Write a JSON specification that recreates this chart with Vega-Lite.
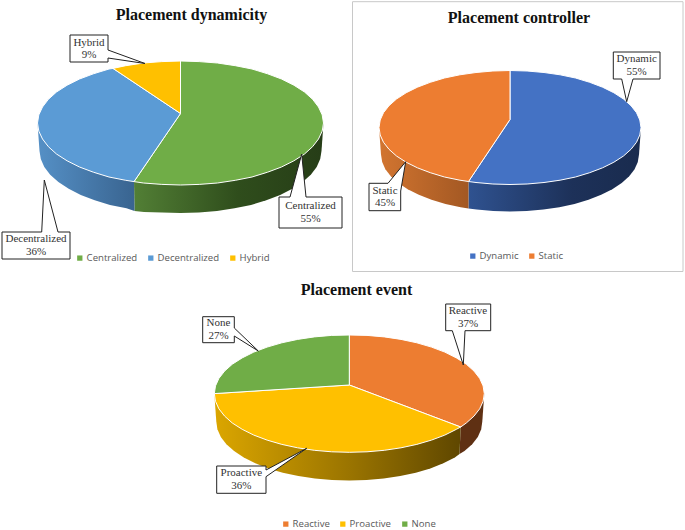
{
"$schema":"https://vega.github.io/schema/vega-lite/v6.json",
"padding":0,
"background":"white",
"spacing":0,
"config":{"view":{"stroke":null},"concat":{"spacing":0},
"title":{"font":"Liberation Serif","fontWeight":"bold","fontSize":16,"color":"#111111","frame":"group"}},
"datasets":{
"A":[
{"part":"top","slice":"Centralized","i":0,"x":180.5,"y":61},{"part":"top","slice":"Centralized","i":1,"x":199.2,"y":61.6},{"part":"top","slice":"Centralized","i":2,"x":217.5,"y":63},{"part":"top","slice":"Centralized","i":3,"x":235.3,"y":65.7},{"part":"top","slice":"Centralized","i":4,"x":252,"y":69},{"part":"top","slice":"Centralized","i":5,"x":267.6,"y":73.8},{"part":"top","slice":"Centralized","i":6,"x":281.5,"y":79},{"part":"top","slice":"Centralized","i":7,"x":293.9,"y":85.2},{"part":"top","slice":"Centralized","i":8,"x":304.5,"y":92},{"part":"top","slice":"Centralized","i":9,"x":312.6,"y":99.3},{"part":"top","slice":"Centralized","i":10,"x":318.5,"y":107},{"part":"top","slice":"Centralized","i":11,"x":322.2,"y":114.9},{"part":"top","slice":"Centralized","i":12,"x":323.5,"y":123},{"part":"top","slice":"Centralized","i":13,"x":322.2,"y":131.1},{"part":"top","slice":"Centralized","i":14,"x":318.5,"y":139},{"part":"top","slice":"Centralized","i":15,"x":312.6,"y":146.7},{"part":"top","slice":"Centralized","i":16,"x":304.5,"y":154},{"part":"top","slice":"Centralized","i":17,"x":293.9,"y":160.8},{"part":"top","slice":"Centralized","i":18,"x":281.5,"y":167},{"part":"top","slice":"Centralized","i":19,"x":267.6,"y":172.2},{"part":"top","slice":"Centralized","i":20,"x":252,"y":177},{"part":"top","slice":"Centralized","i":21,"x":235.3,"y":180.3},{"part":"top","slice":"Centralized","i":22,"x":217.5,"y":183},{"part":"top","slice":"Centralized","i":23,"x":199.2,"y":184.4},{"part":"top","slice":"Centralized","i":24,"x":180.5,"y":185},{"part":"top","slice":"Centralized","i":25,"x":161.8,"y":184.4},{"part":"top","slice":"Centralized","i":26,"x":143.5,"y":183},{"part":"top","slice":"Centralized","i":27,"x":134,"y":181.6},{"part":"top","slice":"Centralized","i":28,"x":180.5,"y":113.5},{"part":"top","slice":"Centralized","i":29,"x":180.5,"y":61},
{"part":"top","slice":"Decentralized","i":0,"x":134,"y":181.6},{"part":"top","slice":"Decentralized","i":1,"x":125.7,"y":180.3},{"part":"top","slice":"Decentralized","i":2,"x":109,"y":177},{"part":"top","slice":"Decentralized","i":3,"x":93.4,"y":172.2},{"part":"top","slice":"Decentralized","i":4,"x":79.5,"y":167},{"part":"top","slice":"Decentralized","i":5,"x":67.1,"y":160.8},{"part":"top","slice":"Decentralized","i":6,"x":56.5,"y":154},{"part":"top","slice":"Decentralized","i":7,"x":48.4,"y":146.7},{"part":"top","slice":"Decentralized","i":8,"x":42.5,"y":139},{"part":"top","slice":"Decentralized","i":9,"x":38.8,"y":131.1},{"part":"top","slice":"Decentralized","i":10,"x":37.5,"y":123},{"part":"top","slice":"Decentralized","i":11,"x":38.8,"y":114.9},{"part":"top","slice":"Decentralized","i":12,"x":42.5,"y":107},{"part":"top","slice":"Decentralized","i":13,"x":48.4,"y":99.3},{"part":"top","slice":"Decentralized","i":14,"x":56.5,"y":92},{"part":"top","slice":"Decentralized","i":15,"x":67.1,"y":85.2},{"part":"top","slice":"Decentralized","i":16,"x":79.5,"y":79},{"part":"top","slice":"Decentralized","i":17,"x":93.4,"y":73.8},{"part":"top","slice":"Decentralized","i":18,"x":109,"y":69},{"part":"top","slice":"Decentralized","i":19,"x":113,"y":68.4},{"part":"top","slice":"Decentralized","i":20,"x":180.5,"y":113.5},{"part":"top","slice":"Decentralized","i":21,"x":134,"y":181.6},
{"part":"top","slice":"Hybrid","i":0,"x":113,"y":68.4},{"part":"top","slice":"Hybrid","i":1,"x":125.7,"y":65.7},{"part":"top","slice":"Hybrid","i":2,"x":143.5,"y":63},{"part":"top","slice":"Hybrid","i":3,"x":161.8,"y":61.6},{"part":"top","slice":"Hybrid","i":4,"x":180.5,"y":61},{"part":"top","slice":"Hybrid","i":5,"x":180.5,"y":113.5},{"part":"top","slice":"Hybrid","i":6,"x":113,"y":68.4},
{"part":"wall","slice":"Centralized","i":0,"x":323.5,"y":123},{"part":"wall","slice":"Centralized","i":1,"x":321.5,"y":151},{"part":"wall","slice":"Centralized","i":2,"x":320.2,"y":159.1},{"part":"wall","slice":"Centralized","i":3,"x":316.7,"y":167},{"part":"wall","slice":"Centralized","i":4,"x":310.8,"y":174.7},{"part":"wall","slice":"Centralized","i":5,"x":302.6,"y":182},{"part":"wall","slice":"Centralized","i":6,"x":292.3,"y":188.8},{"part":"wall","slice":"Centralized","i":7,"x":280.2,"y":195},{"part":"wall","slice":"Centralized","i":8,"x":266.3,"y":200.2},{"part":"wall","slice":"Centralized","i":9,"x":251,"y":205},{"part":"wall","slice":"Centralized","i":10,"x":234.5,"y":208.3},{"part":"wall","slice":"Centralized","i":11,"x":217,"y":211},{"part":"wall","slice":"Centralized","i":12,"x":198.9,"y":212.4},{"part":"wall","slice":"Centralized","i":13,"x":180.5,"y":213},{"part":"wall","slice":"Centralized","i":14,"x":162.1,"y":212.6},{"part":"wall","slice":"Centralized","i":15,"x":144,"y":212},{"part":"wall","slice":"Centralized","i":16,"x":134.5,"y":211},{"part":"wall","slice":"Centralized","i":17,"x":134,"y":181.6},
{"part":"wall","slice":"Decentralized","i":0,"x":134,"y":181.6},{"part":"wall","slice":"Decentralized","i":1,"x":134.5,"y":211},{"part":"wall","slice":"Decentralized","i":2,"x":126.5,"y":208.3},{"part":"wall","slice":"Decentralized","i":3,"x":110,"y":205},{"part":"wall","slice":"Decentralized","i":4,"x":94.7,"y":200.2},{"part":"wall","slice":"Decentralized","i":5,"x":80.8,"y":195},{"part":"wall","slice":"Decentralized","i":6,"x":68.7,"y":188.8},{"part":"wall","slice":"Decentralized","i":7,"x":58.4,"y":182},{"part":"wall","slice":"Decentralized","i":8,"x":50.2,"y":174.7},{"part":"wall","slice":"Decentralized","i":9,"x":44.3,"y":167},{"part":"wall","slice":"Decentralized","i":10,"x":40.8,"y":159.1},{"part":"wall","slice":"Decentralized","i":11,"x":39.5,"y":151},{"part":"wall","slice":"Decentralized","i":12,"x":37.5,"y":123}
],
"Acall":[
{"c":"Hybrid","i":0,"x":70,"y":35},{"c":"Hybrid","i":1,"x":108,"y":35},{"c":"Hybrid","i":2,"x":108,"y":50},{"c":"Hybrid","i":3,"x":145,"y":63.5},{"c":"Hybrid","i":4,"x":108,"y":58},{"c":"Hybrid","i":5,"x":108,"y":62},{"c":"Hybrid","i":6,"x":70,"y":62},{"c":"Hybrid","i":7,"x":70,"y":35},
{"c":"Centralized","i":0,"x":279,"y":197},{"c":"Centralized","i":1,"x":290,"y":197},{"c":"Centralized","i":2,"x":301.7,"y":154},{"c":"Centralized","i":3,"x":306,"y":197},{"c":"Centralized","i":4,"x":342,"y":197},{"c":"Centralized","i":5,"x":342,"y":228},{"c":"Centralized","i":6,"x":279,"y":228},{"c":"Centralized","i":7,"x":279,"y":197},
{"c":"Decentralized","i":0,"x":2,"y":232},{"c":"Decentralized","i":1,"x":41.7,"y":232},{"c":"Decentralized","i":2,"x":44.3,"y":180},{"c":"Decentralized","i":3,"x":58,"y":232},{"c":"Decentralized","i":4,"x":70,"y":232},{"c":"Decentralized","i":5,"x":70,"y":259},{"c":"Decentralized","i":6,"x":2,"y":259},{"c":"Decentralized","i":7,"x":2,"y":232}
],
"Alabel":[{"label":"Hybrid\n9%","x":89,"y":42.8},{"label":"Centralized\n55%","x":310.5,"y":206.3},{"label":"Decentralized\n36%","x":36,"y":239.3}],
"B":[
{"part":"top","slice":"Dynamic","i":0,"x":510,"y":70.5},{"part":"top","slice":"Dynamic","i":1,"x":527.1,"y":71},{"part":"top","slice":"Dynamic","i":2,"x":544,"y":72.5},{"part":"top","slice":"Dynamic","i":3,"x":560.1,"y":74.8},{"part":"top","slice":"Dynamic","i":4,"x":575.5,"y":78},{"part":"top","slice":"Dynamic","i":5,"x":589.7,"y":82.3},{"part":"top","slice":"Dynamic","i":6,"x":602.6,"y":87.2},{"part":"top","slice":"Dynamic","i":7,"x":613.9,"y":92.8},{"part":"top","slice":"Dynamic","i":8,"x":623.5,"y":99},{"part":"top","slice":"Dynamic","i":9,"x":631,"y":105.7},{"part":"top","slice":"Dynamic","i":10,"x":636.5,"y":112.7},{"part":"top","slice":"Dynamic","i":11,"x":639.8,"y":120},{"part":"top","slice":"Dynamic","i":12,"x":641,"y":127.5},{"part":"top","slice":"Dynamic","i":13,"x":639.8,"y":135},{"part":"top","slice":"Dynamic","i":14,"x":636.5,"y":142.3},{"part":"top","slice":"Dynamic","i":15,"x":631,"y":149.3},{"part":"top","slice":"Dynamic","i":16,"x":623.5,"y":156},{"part":"top","slice":"Dynamic","i":17,"x":613.9,"y":162.2},{"part":"top","slice":"Dynamic","i":18,"x":602.6,"y":167.8},{"part":"top","slice":"Dynamic","i":19,"x":589.7,"y":172.7},{"part":"top","slice":"Dynamic","i":20,"x":575.5,"y":177},{"part":"top","slice":"Dynamic","i":21,"x":560.1,"y":180.2},{"part":"top","slice":"Dynamic","i":22,"x":544,"y":182.5},{"part":"top","slice":"Dynamic","i":23,"x":527.1,"y":184},{"part":"top","slice":"Dynamic","i":24,"x":510,"y":184.5},{"part":"top","slice":"Dynamic","i":25,"x":492.9,"y":184},{"part":"top","slice":"Dynamic","i":26,"x":476,"y":182.5},{"part":"top","slice":"Dynamic","i":27,"x":468.5,"y":181.5},{"part":"top","slice":"Dynamic","i":28,"x":510,"y":119.5},{"part":"top","slice":"Dynamic","i":29,"x":510,"y":70.5},
{"part":"top","slice":"Static","i":0,"x":468.5,"y":181.5},{"part":"top","slice":"Static","i":1,"x":459.9,"y":180.2},{"part":"top","slice":"Static","i":2,"x":444.5,"y":177},{"part":"top","slice":"Static","i":3,"x":430.3,"y":172.7},{"part":"top","slice":"Static","i":4,"x":417.4,"y":167.8},{"part":"top","slice":"Static","i":5,"x":406.1,"y":162.2},{"part":"top","slice":"Static","i":6,"x":396.5,"y":156},{"part":"top","slice":"Static","i":7,"x":389,"y":149.3},{"part":"top","slice":"Static","i":8,"x":383.5,"y":142.3},{"part":"top","slice":"Static","i":9,"x":380.2,"y":135},{"part":"top","slice":"Static","i":10,"x":379,"y":127.5},{"part":"top","slice":"Static","i":11,"x":380.2,"y":120},{"part":"top","slice":"Static","i":12,"x":383.5,"y":112.7},{"part":"top","slice":"Static","i":13,"x":389,"y":105.7},{"part":"top","slice":"Static","i":14,"x":396.5,"y":99},{"part":"top","slice":"Static","i":15,"x":406.1,"y":92.8},{"part":"top","slice":"Static","i":16,"x":417.4,"y":87.2},{"part":"top","slice":"Static","i":17,"x":430.3,"y":82.3},{"part":"top","slice":"Static","i":18,"x":444.5,"y":78},{"part":"top","slice":"Static","i":19,"x":459.9,"y":74.8},{"part":"top","slice":"Static","i":20,"x":476,"y":72.5},{"part":"top","slice":"Static","i":21,"x":492.9,"y":71},{"part":"top","slice":"Static","i":22,"x":510,"y":70.5},{"part":"top","slice":"Static","i":23,"x":510,"y":119.5},{"part":"top","slice":"Static","i":24,"x":468.5,"y":181.5},
{"part":"wall","slice":"Dynamic","i":0,"x":641,"y":127.5},{"part":"wall","slice":"Dynamic","i":1,"x":639,"y":154.5},{"part":"wall","slice":"Dynamic","i":2,"x":637.8,"y":162},{"part":"wall","slice":"Dynamic","i":3,"x":634.6,"y":169.3},{"part":"wall","slice":"Dynamic","i":4,"x":629.2,"y":176.3},{"part":"wall","slice":"Dynamic","i":5,"x":621.7,"y":183},{"part":"wall","slice":"Dynamic","i":6,"x":612.3,"y":189.2},{"part":"wall","slice":"Dynamic","i":7,"x":601.2,"y":194.8},{"part":"wall","slice":"Dynamic","i":8,"x":588.5,"y":199.7},{"part":"wall","slice":"Dynamic","i":9,"x":574.5,"y":204},{"part":"wall","slice":"Dynamic","i":10,"x":559.4,"y":207.2},{"part":"wall","slice":"Dynamic","i":11,"x":543.4,"y":209.5},{"part":"wall","slice":"Dynamic","i":12,"x":526.8,"y":211},{"part":"wall","slice":"Dynamic","i":13,"x":510,"y":211.5},{"part":"wall","slice":"Dynamic","i":14,"x":493.2,"y":211},{"part":"wall","slice":"Dynamic","i":15,"x":476.6,"y":209.5},{"part":"wall","slice":"Dynamic","i":16,"x":468.5,"y":208.5},{"part":"wall","slice":"Dynamic","i":17,"x":468.5,"y":181.5},
{"part":"wall","slice":"Static","i":0,"x":468.5,"y":181.5},{"part":"wall","slice":"Static","i":1,"x":468.5,"y":208.5},{"part":"wall","slice":"Static","i":2,"x":460.6,"y":207.2},{"part":"wall","slice":"Static","i":3,"x":445.5,"y":204},{"part":"wall","slice":"Static","i":4,"x":431.5,"y":199.7},{"part":"wall","slice":"Static","i":5,"x":418.8,"y":194.8},{"part":"wall","slice":"Static","i":6,"x":407.7,"y":189.2},{"part":"wall","slice":"Static","i":7,"x":398.3,"y":183},{"part":"wall","slice":"Static","i":8,"x":390.8,"y":176.3},{"part":"wall","slice":"Static","i":9,"x":385.4,"y":169.3},{"part":"wall","slice":"Static","i":10,"x":382.2,"y":162},{"part":"wall","slice":"Static","i":11,"x":381,"y":154.5},{"part":"wall","slice":"Static","i":12,"x":379,"y":127.5}
],
"Bcall":[
{"c":"Dynamic","i":0,"x":613.3,"y":52},{"c":"Dynamic","i":1,"x":660,"y":52},{"c":"Dynamic","i":2,"x":660,"y":79},{"c":"Dynamic","i":3,"x":633,"y":79},{"c":"Dynamic","i":4,"x":626.7,"y":101.7},{"c":"Dynamic","i":5,"x":621.7,"y":79},{"c":"Dynamic","i":6,"x":613.3,"y":79},{"c":"Dynamic","i":7,"x":613.3,"y":52},
{"c":"Static","i":0,"x":369,"y":183.3},{"c":"Static","i":1,"x":388,"y":183.3},{"c":"Static","i":2,"x":405.7,"y":161.7},{"c":"Static","i":3,"x":400.7,"y":191},{"c":"Static","i":4,"x":400.7,"y":210.7},{"c":"Static","i":5,"x":369,"y":210.7},{"c":"Static","i":6,"x":369,"y":183.3}
],
"Blabel":[{"label":"Dynamic\n55%","x":636.7,"y":59.3},{"label":"Static\n45%","x":385,"y":190.8}],
"C":[
{"part":"top","slice":"Reactive","i":0,"x":349.3,"y":335},{"part":"top","slice":"Reactive","i":1,"x":367,"y":335.4},{"part":"top","slice":"Reactive","i":2,"x":384.3,"y":336.9},{"part":"top","slice":"Reactive","i":3,"x":401,"y":339.4},{"part":"top","slice":"Reactive","i":4,"x":416.8,"y":342.8},{"part":"top","slice":"Reactive","i":5,"x":431.5,"y":347.1},{"part":"top","slice":"Reactive","i":6,"x":444.8,"y":352.1},{"part":"top","slice":"Reactive","i":7,"x":456.4,"y":357.9},{"part":"top","slice":"Reactive","i":8,"x":466.3,"y":364.2},{"part":"top","slice":"Reactive","i":9,"x":474,"y":371.1},{"part":"top","slice":"Reactive","i":10,"x":479.7,"y":378.4},{"part":"top","slice":"Reactive","i":11,"x":483.1,"y":385.9},{"part":"top","slice":"Reactive","i":12,"x":484.3,"y":393.6},{"part":"top","slice":"Reactive","i":13,"x":483.1,"y":401.3},{"part":"top","slice":"Reactive","i":14,"x":479.7,"y":408.8},{"part":"top","slice":"Reactive","i":15,"x":474,"y":416.1},{"part":"top","slice":"Reactive","i":16,"x":466.3,"y":423},{"part":"top","slice":"Reactive","i":17,"x":460.7,"y":427},{"part":"top","slice":"Reactive","i":18,"x":349.3,"y":385},{"part":"top","slice":"Reactive","i":19,"x":349.3,"y":335},
{"part":"top","slice":"Proactive","i":0,"x":460.7,"y":427},{"part":"top","slice":"Proactive","i":1,"x":456.4,"y":429.3},{"part":"top","slice":"Proactive","i":2,"x":444.8,"y":435.1},{"part":"top","slice":"Proactive","i":3,"x":431.5,"y":440.1},{"part":"top","slice":"Proactive","i":4,"x":416.8,"y":444.4},{"part":"top","slice":"Proactive","i":5,"x":401,"y":447.8},{"part":"top","slice":"Proactive","i":6,"x":384.3,"y":450.3},{"part":"top","slice":"Proactive","i":7,"x":367,"y":451.8},{"part":"top","slice":"Proactive","i":8,"x":349.3,"y":452.3},{"part":"top","slice":"Proactive","i":9,"x":331.6,"y":451.8},{"part":"top","slice":"Proactive","i":10,"x":314.3,"y":450.3},{"part":"top","slice":"Proactive","i":11,"x":297.6,"y":447.8},{"part":"top","slice":"Proactive","i":12,"x":281.8,"y":444.4},{"part":"top","slice":"Proactive","i":13,"x":267.1,"y":440.1},{"part":"top","slice":"Proactive","i":14,"x":253.8,"y":435.1},{"part":"top","slice":"Proactive","i":15,"x":242.2,"y":429.3},{"part":"top","slice":"Proactive","i":16,"x":232.3,"y":423},{"part":"top","slice":"Proactive","i":17,"x":224.6,"y":416.1},{"part":"top","slice":"Proactive","i":18,"x":218.9,"y":408.8},{"part":"top","slice":"Proactive","i":19,"x":215.5,"y":401.3},{"part":"top","slice":"Proactive","i":20,"x":214.3,"y":393.6},{"part":"top","slice":"Proactive","i":21,"x":349.3,"y":385},{"part":"top","slice":"Proactive","i":22,"x":460.7,"y":427},
{"part":"top","slice":"None","i":0,"x":214.3,"y":393.6},{"part":"top","slice":"None","i":1,"x":215.5,"y":385.9},{"part":"top","slice":"None","i":2,"x":218.9,"y":378.4},{"part":"top","slice":"None","i":3,"x":224.6,"y":371.1},{"part":"top","slice":"None","i":4,"x":232.3,"y":364.2},{"part":"top","slice":"None","i":5,"x":242.2,"y":357.9},{"part":"top","slice":"None","i":6,"x":253.8,"y":352.1},{"part":"top","slice":"None","i":7,"x":267.1,"y":347.1},{"part":"top","slice":"None","i":8,"x":281.8,"y":342.8},{"part":"top","slice":"None","i":9,"x":297.6,"y":339.4},{"part":"top","slice":"None","i":10,"x":314.3,"y":336.9},{"part":"top","slice":"None","i":11,"x":331.6,"y":335.4},{"part":"top","slice":"None","i":12,"x":349.3,"y":335},{"part":"top","slice":"None","i":13,"x":349.3,"y":385},{"part":"top","slice":"None","i":14,"x":214.3,"y":393.6},
{"part":"wall","slice":"Reactive","i":0,"x":484.3,"y":393.6},{"part":"wall","slice":"Reactive","i":1,"x":482.3,"y":421.6},{"part":"wall","slice":"Reactive","i":2,"x":481.2,"y":429.3},{"part":"wall","slice":"Reactive","i":3,"x":477.8,"y":436.9},{"part":"wall","slice":"Reactive","i":4,"x":472.2,"y":444.2},{"part":"wall","slice":"Reactive","i":5,"x":464.5,"y":451.1},{"part":"wall","slice":"Reactive","i":6,"x":459.5,"y":454},{"part":"wall","slice":"Reactive","i":7,"x":460.7,"y":427},
{"part":"wall","slice":"Proactive","i":0,"x":460.7,"y":427},{"part":"wall","slice":"Proactive","i":1,"x":459.5,"y":454},{"part":"wall","slice":"Proactive","i":2,"x":454.8,"y":457.5},{"part":"wall","slice":"Proactive","i":3,"x":443.3,"y":463.3},{"part":"wall","slice":"Proactive","i":4,"x":430.3,"y":468.4},{"part":"wall","slice":"Proactive","i":5,"x":415.8,"y":472.7},{"part":"wall","slice":"Proactive","i":6,"x":400.2,"y":476.1},{"part":"wall","slice":"Proactive","i":7,"x":383.7,"y":478.6},{"part":"wall","slice":"Proactive","i":8,"x":366.7,"y":480.1},{"part":"wall","slice":"Proactive","i":9,"x":349.3,"y":480.6},{"part":"wall","slice":"Proactive","i":10,"x":331.9,"y":480.1},{"part":"wall","slice":"Proactive","i":11,"x":314.9,"y":478.6},{"part":"wall","slice":"Proactive","i":12,"x":298.4,"y":476.1},{"part":"wall","slice":"Proactive","i":13,"x":282.8,"y":472.7},{"part":"wall","slice":"Proactive","i":14,"x":268.3,"y":468.4},{"part":"wall","slice":"Proactive","i":15,"x":255.3,"y":463.3},{"part":"wall","slice":"Proactive","i":16,"x":243.8,"y":457.5},{"part":"wall","slice":"Proactive","i":17,"x":234.1,"y":451.1},{"part":"wall","slice":"Proactive","i":18,"x":226.4,"y":444.2},{"part":"wall","slice":"Proactive","i":19,"x":220.8,"y":436.9},{"part":"wall","slice":"Proactive","i":20,"x":217.4,"y":429.3},{"part":"wall","slice":"Proactive","i":21,"x":216.3,"y":421.6},{"part":"wall","slice":"Proactive","i":22,"x":214.3,"y":393.6}
],
"Ccall":[
{"c":"Reactive","i":0,"x":445.7,"y":304},{"c":"Reactive","i":1,"x":490.7,"y":304},{"c":"Reactive","i":2,"x":490.7,"y":330.7},{"c":"Reactive","i":3,"x":465,"y":330.7},{"c":"Reactive","i":4,"x":463.3,"y":365},{"c":"Reactive","i":5,"x":452.3,"y":330.7},{"c":"Reactive","i":6,"x":445.7,"y":330.7},{"c":"Reactive","i":7,"x":445.7,"y":304},
{"c":"None","i":0,"x":202.7,"y":316.7},{"c":"None","i":1,"x":234.3,"y":316.7},{"c":"None","i":2,"x":234.3,"y":328},{"c":"None","i":3,"x":258.3,"y":351},{"c":"None","i":4,"x":234.3,"y":336},{"c":"None","i":5,"x":234.3,"y":342.7},{"c":"None","i":6,"x":202.7,"y":342.7},{"c":"None","i":7,"x":202.7,"y":316.7},
{"c":"Proactive","i":0,"x":216.7,"y":466},{"c":"Proactive","i":1,"x":266,"y":466},{"c":"Proactive","i":2,"x":266,"y":470},{"c":"Proactive","i":3,"x":306.7,"y":448.3},{"c":"Proactive","i":4,"x":266,"y":476.7},{"c":"Proactive","i":5,"x":266,"y":493.3},{"c":"Proactive","i":6,"x":216.7,"y":493.3},{"c":"Proactive","i":7,"x":216.7,"y":466}
],
"Clabel":[{"label":"Reactive\n37%","x":468,"y":311.3},{"label":"None\n27%","x":218.5,"y":323.3},{"label":"Proactive\n36%","x":241.3,"y":473.3}]
},
"vconcat":[
{"hconcat":[
{"width":345,"height":272,
"title":{"text":"Placement dynamicity","offset":-23,"dx":19},
"layer":[
{"data":{"name":"A"},"transform":[{"filter":"datum.part==='wall' && datum.slice==='Centralized'"}],
"mark":{"type":"line","strokeWidth":0,"fill":{"gradient":"linear","x1":0,"x2":1,"y1":0,"y2":0,"stops":[{"offset":0,"color":"#527f35"},{"offset":0.55,"color":"#2f4d1c"},{"offset":1,"color":"#263d17"}]}},
"encoding":{"x":{"field":"x","type":"quantitative","scale":{"domain":[0,345],"nice":false,"zero":false},"axis":null},"y":{"field":"y","type":"quantitative","scale":{"domain":[272,0],"nice":false,"zero":false},"axis":null},"order":{"field":"i"}}},
{"data":{"name":"A"},"transform":[{"filter":"datum.part==='wall' && datum.slice==='Decentralized'"}],
"mark":{"type":"line","strokeWidth":0,"fill":{"gradient":"linear","x1":0,"x2":1,"y1":0,"y2":0,"stops":[{"offset":0,"color":"#5590c6"},{"offset":1,"color":"#396490"}]}},
"encoding":{"x":{"field":"x","type":"quantitative"},"y":{"field":"y","type":"quantitative"},"order":{"field":"i"}}},
{"data":{"name":"A"},"transform":[{"filter":"datum.part==='top'"}],
"mark":{"type":"line","stroke":"#ffffff","strokeWidth":1},
"encoding":{"x":{"field":"x","type":"quantitative"},"y":{"field":"y","type":"quantitative"},"order":{"field":"i"},
"fill":{"field":"slice","type":"nominal","scale":{"domain":["Centralized","Decentralized","Hybrid"],"range":["#70AD47","#5B9BD5","#FFC000"]},
"legend":{"title":null,"orient":"none","legendX":75,"legendY":253,"direction":"horizontal","symbolType":"square","symbolSize":28,"symbolStrokeWidth":0,"labelFont":"Open Sans","labelFontSize":9.6,"labelColor":"#595959","columnPadding":8,"labelOffset":2}}}},
{"data":{"name":"Acall"},"mark":{"type":"line","fill":"#ffffff","stroke":"#222222","strokeWidth":1},
"encoding":{"x":{"field":"x","type":"quantitative"},"y":{"field":"y","type":"quantitative"},"order":{"field":"i"},"detail":{"field":"c"}}},
{"data":{"name":"Alabel"},"mark":{"type":"text","font":"Liberation Serif","fontSize":11,"lineHeight":12.5,"lineBreak":"\n","align":"center","baseline":"middle","color":"#333333"},
"encoding":{"x":{"field":"x","type":"quantitative"},"y":{"field":"y","type":"quantitative"},"text":{"field":"label"}}}
]},
{"width":332,"height":272,
"title":{"text":"Placement controller","offset":-26,"dx":1},
"layer":[
{"data":{"values":[{"x":352.5,"x2":683,"y":1.7,"y2":271.5}]},
"mark":{"type":"rect","fill":"#ffffff","stroke":"#c8c8c8","strokeWidth":1},
"encoding":{"x":{"field":"x","type":"quantitative","scale":{"domain":[352,684],"nice":false,"zero":false},"axis":null},"x2":{"field":"x2"},"y":{"field":"y","type":"quantitative","scale":{"domain":[272,0],"nice":false,"zero":false},"axis":null},"y2":{"field":"y2"}}},
{"data":{"name":"B"},"transform":[{"filter":"datum.part==='wall' && datum.slice==='Dynamic'"}],
"mark":{"type":"line","strokeWidth":0,"fill":{"gradient":"linear","x1":0,"x2":1,"y1":0,"y2":0,"stops":[{"offset":0,"color":"#2f5290"},{"offset":0.6,"color":"#1d3159"},{"offset":1,"color":"#192b4e"}]}},
"encoding":{"x":{"field":"x","type":"quantitative"},"y":{"field":"y","type":"quantitative"},"order":{"field":"i"}}},
{"data":{"name":"B"},"transform":[{"filter":"datum.part==='wall' && datum.slice==='Static'"}],
"mark":{"type":"line","strokeWidth":0,"fill":{"gradient":"linear","x1":0,"x2":1,"y1":0,"y2":0,"stops":[{"offset":0,"color":"#d27530"},{"offset":1,"color":"#a35823"}]}},
"encoding":{"x":{"field":"x","type":"quantitative"},"y":{"field":"y","type":"quantitative"},"order":{"field":"i"}}},
{"data":{"name":"B"},"transform":[{"filter":"datum.part==='top'"}],
"mark":{"type":"line","stroke":"#ffffff","strokeWidth":1},
"encoding":{"x":{"field":"x","type":"quantitative"},"y":{"field":"y","type":"quantitative"},"order":{"field":"i"},
"fill":{"field":"slice","type":"nominal","scale":{"domain":["Dynamic","Static"],"range":["#4472C4","#ED7D31"]},
"legend":{"title":null,"orient":"none","legendX":116,"legendY":251,"direction":"horizontal","symbolType":"square","symbolSize":28,"symbolStrokeWidth":0,"labelFont":"Open Sans","labelFontSize":9.6,"labelColor":"#595959","columnPadding":8,"labelOffset":2}}}},
{"data":{"name":"Bcall"},"mark":{"type":"line","fill":"#ffffff","stroke":"#222222","strokeWidth":1},
"encoding":{"x":{"field":"x","type":"quantitative"},"y":{"field":"y","type":"quantitative"},"order":{"field":"i"},"detail":{"field":"c"}}},
{"data":{"name":"Blabel"},"mark":{"type":"text","font":"Liberation Serif","fontSize":11,"lineHeight":12.5,"lineBreak":"\n","align":"center","baseline":"middle","color":"#333333"},
"encoding":{"x":{"field":"x","type":"quantitative"},"y":{"field":"y","type":"quantitative"},"text":{"field":"label"}}}
]}
],"spacing":7,"resolve":{"scale":{"fill":"independent"},"legend":{"fill":"independent"}}},
{"width":685,"height":258,
"title":{"text":"Placement event","offset":-26,"dx":14},
"layer":[
{"data":{"name":"C"},"transform":[{"filter":"datum.part==='wall' && datum.slice==='Reactive'"}],
"mark":{"type":"line","strokeWidth":0,"fill":"#5f3013"},
"encoding":{"x":{"field":"x","type":"quantitative","scale":{"domain":[0,685],"nice":false,"zero":false},"axis":null},"y":{"field":"y","type":"quantitative","scale":{"domain":[530,272],"nice":false,"zero":false},"axis":null},"order":{"field":"i"}}},
{"data":{"name":"C"},"transform":[{"filter":"datum.part==='wall' && datum.slice==='Proactive'"}],
"mark":{"type":"line","strokeWidth":0,"fill":{"gradient":"linear","x1":0,"x2":1,"y1":0,"y2":0,"stops":[{"offset":0,"color":"#dba600"},{"offset":0.55,"color":"#9a7400"},{"offset":1,"color":"#5f4700"}]}},
"encoding":{"x":{"field":"x","type":"quantitative"},"y":{"field":"y","type":"quantitative"},"order":{"field":"i"}}},
{"data":{"name":"C"},"transform":[{"filter":"datum.part==='top'"}],
"mark":{"type":"line","stroke":"#ffffff","strokeWidth":1},
"encoding":{"x":{"field":"x","type":"quantitative"},"y":{"field":"y","type":"quantitative"},"order":{"field":"i"},
"fill":{"field":"slice","type":"nominal","scale":{"domain":["Reactive","Proactive","None"],"range":["#ED7D31","#FFC000","#70AD47"]},
"legend":{"title":null,"orient":"none","legendX":281,"legendY":519,"direction":"horizontal","symbolType":"square","symbolSize":28,"symbolStrokeWidth":0,"labelFont":"Open Sans","labelFontSize":9.6,"labelColor":"#595959","columnPadding":8,"labelOffset":2}}}},
{"data":{"name":"Ccall"},"mark":{"type":"line","fill":"#ffffff","stroke":"#222222","strokeWidth":1},
"encoding":{"x":{"field":"x","type":"quantitative"},"y":{"field":"y","type":"quantitative"},"order":{"field":"i"},"detail":{"field":"c"}}},
{"data":{"name":"Clabel"},"mark":{"type":"text","font":"Liberation Serif","fontSize":11,"lineHeight":12.5,"lineBreak":"\n","align":"center","baseline":"middle","color":"#333333"},
"encoding":{"x":{"field":"x","type":"quantitative"},"y":{"field":"y","type":"quantitative"},"text":{"field":"label"}}}
]}
]
}
